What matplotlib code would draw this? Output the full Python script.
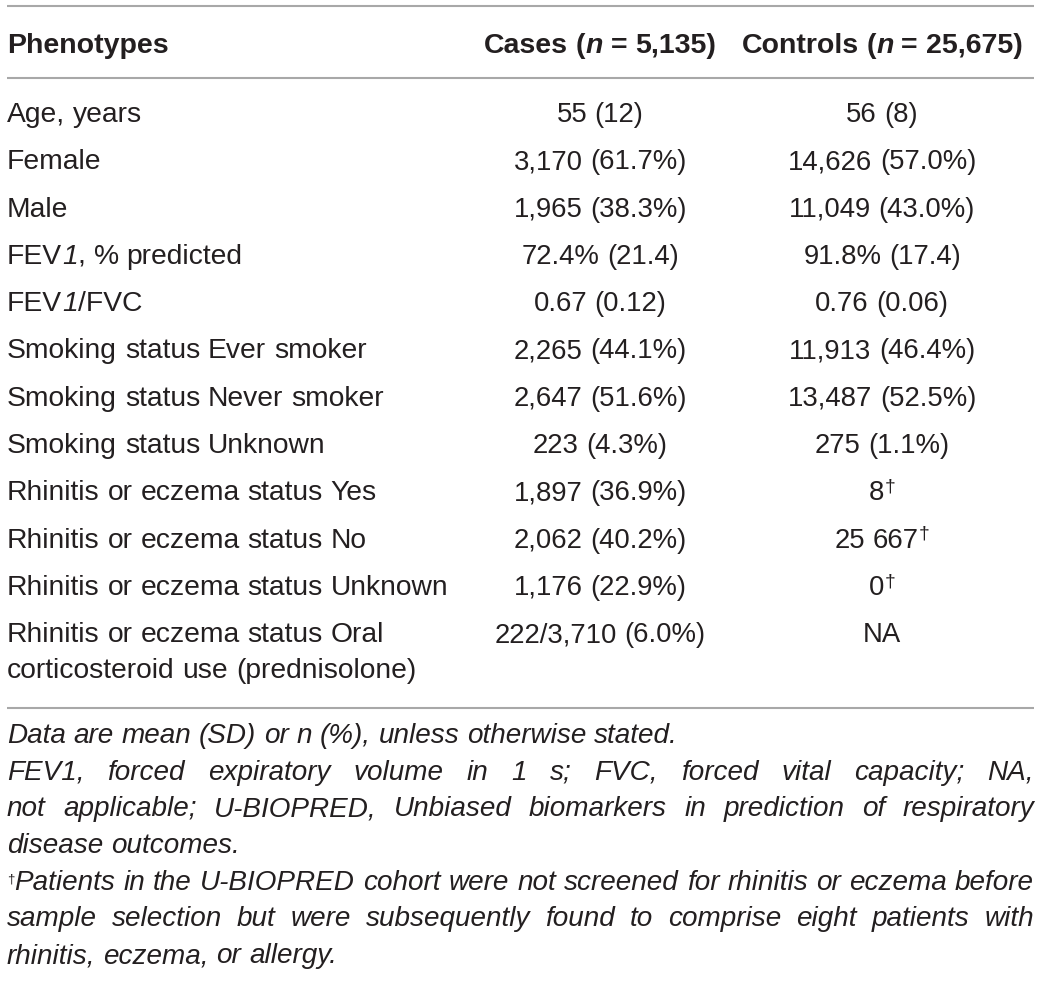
import re
import matplotlib
matplotlib.use("Agg")
import matplotlib.pyplot as plt

# table content; _x_ = italic, ^x^ = superscript
header = ["Phenotypes", "Cases (_n_ = 5,135)", "Controls (_n_ = 25,675)"]
phenotypes = ["Age, years", "Female", "Male", "FEV_1_, % predicted", "FEV_1_/FVC",
              "Smoking status Ever smoker", "Smoking status Never smoker",
              "Smoking status Unknown", "Rhinitis or eczema status Yes",
              "Rhinitis or eczema status No", "Rhinitis or eczema status Unknown",
              "Rhinitis or eczema status Oral\ncorticosteroid use (prednisolone)"]
cases = ["55 (12)", "3,170 (61.7%)", "1,965 (38.3%)", "72.4% (21.4)", "0.67 (0.12)",
         "2,265 (44.1%)", "2,647 (51.6%)", "223 (4.3%)", "1,897 (36.9%)",
         "2,062 (40.2%)", "1,176 (22.9%)", "222/3,710 (6.0%)"]
controls = ["56 (8)", "14,626 (57.0%)", "11,049 (43.0%)", "91.8% (17.4)", "0.76 (0.06)",
            "11,913 (46.4%)", "13,487 (52.5%)", "275 (1.1%)", "8^†^",
            "25 667^†^", "0^†^", "NA"]
notes = ["Data are mean (SD) or n (%), unless otherwise stated.",
         "FEV1, forced expiratory volume in 1 s; FVC, forced vital capacity; NA,",
         "not applicable; U-BIOPRED, Unbiased biomarkers in prediction of respiratory",
         "disease outcomes.",
         "^†^Patients in the U-BIOPRED cohort were not screened for rhinitis or eczema before",
         "sample selection but were subsequently found to comprise eight patients with",
         "rhinitis, eczema, or allergy."]
notes_justify = [False, True, True, False, True, True, False]

ink = "#231f20"
fam = "Liberation Sans"
styles = {
    "r": dict(family=fam, size=19.8, color=ink),
    "l": dict(family=fam, size=20.3, color=ink),
    "li": dict(family=fam, size=20.3, color=ink, style="italic"),
    "i": dict(family=fam, size=20.1, color=ink, style="italic"),
    "b": dict(family=fam, size=20.5, color=ink, weight="bold"),
    "bi": dict(family=fam, size=20.5, color=ink, weight="bold", style="italic"),
    "sup": dict(family=fam, size=14, color=ink),
    "supn": dict(family=fam, size=9.5, color=ink),
}
ital = {"r": "i", "l": "li", "i": "r", "b": "bi", "bi": "b"}
sup_of = {"r": ("sup", -9), "l": ("sup", -9), "i": ("supn", -7), "b": ("sup", -9)}

fig = plt.figure(figsize=(10.41, 9.81), dpi=100)
ax = fig.add_axes([0, 0, 1, 1])
ax.set_xlim(0, 1041)
ax.set_ylim(981, 0)
ax.axis("off")
rend = fig.canvas.get_renderer()


def raw_w(s, st):
    t = ax.text(0, 0, s, **styles[st])
    w = t.get_window_extent(renderer=rend).width
    t.remove()
    return w


def width(s, st):
    return raw_w("|" + s + "|", st) - raw_w("||", st)


def parse(s, base):
    pieces = []
    for tok in re.split(r"(_[^_]*_|\^[^^]*\^)", s):
        if not tok:
            continue
        if tok[0] == "_":
            pieces.append((tok[1:-1], ital[base], 0))
        elif tok[0] == "^":
            st, dy = sup_of[base]
            pieces.append((tok[1:-1], st, dy))
        else:
            pieces.append((tok, base, 0))
    # split into words
    words = [[]]
    for txt, st, dy in pieces:
        parts = txt.split(" ")
        for k, p in enumerate(parts):
            if k > 0:
                words.append([])
            if p:
                words[-1].append((p, st, dy))
    return [w for w in words if w]


def draw(s, base, x, y, align="left", x1=None):
    words = parse(s, base)
    ws = [sum(width(p, st) for p, st, dy in w) for w in words]
    sp = raw_w("a a", base) - raw_w("aa", base)
    total = sum(ws) + sp * (len(words) - 1)
    if align == "center":
        cx = x - total / 2
        gap = sp
    elif align == "justify" and len(words) > 1:
        cx = x
        gap = (x1 - x - sum(ws)) / (len(words) - 1)
    else:
        cx = x
        gap = sp
    for w, wd in zip(words, ws):
        px = cx
        for p, st, dy in w:
            ax.text(px, y + dy, p, ha="left", va="baseline", **styles[st])
            px += width(p, st)
        cx += wd + gap


left, right = 7, 1034
col_cases, col_ctrl = 600, 882

# rules
for yy in [5.5, 77.5, 707.5]:
    ax.plot([left, right], [yy, yy], color="#a8a8a8", lw=1.5, solid_capstyle="butt")

# header
draw(header[0], "b", left, 53)
draw(header[1], "b", col_cases, 53, "center")
draw(header[2], "b", col_ctrl, 53, "center")

# body rows
for i, (ph, ca, co) in enumerate(zip(phenotypes, cases, controls)):
    yb = 122 + 47.3 * i
    for j, line in enumerate(ph.split("\n")):
        draw(line, "l", left, yb + 36 * j)
    draw(ca, "r", col_cases, yb, "center")
    draw(co, "r", col_ctrl, yb, "center")

# footnotes
for k, (note, just) in enumerate(zip(notes, notes_justify)):
    yb = 743 + 36.7 * k
    draw(note, "i", left, yb, "justify" if just else "left", right)

fig.savefig("out.png", dpi=100)
